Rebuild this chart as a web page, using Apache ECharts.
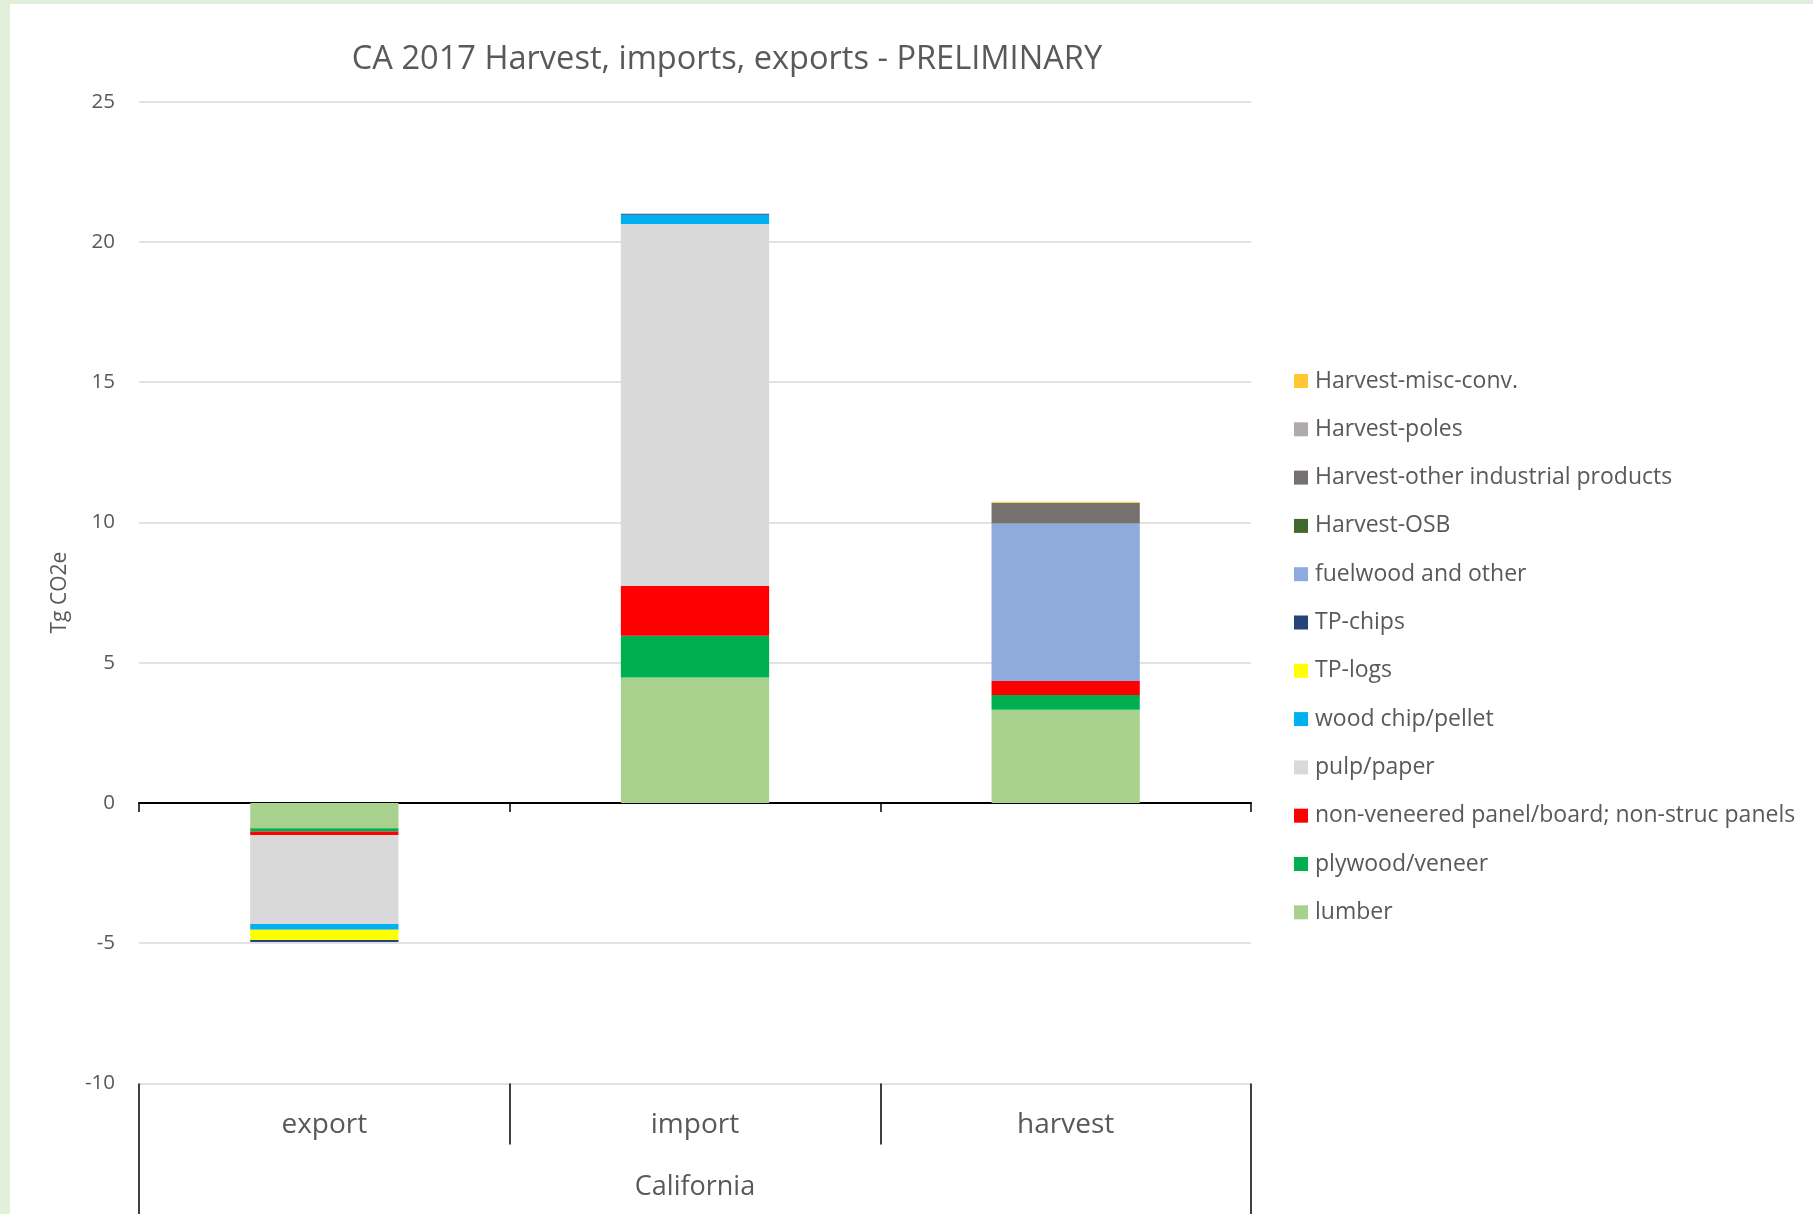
<!DOCTYPE html>
<html>
<head>
<meta charset="utf-8">
<script src="https://cdn.jsdelivr.net/npm/echarts@6/dist/echarts.min.js"></script>
<style>
  html, body { margin: 0; padding: 0; background: #fff; }
  #chart { position: absolute; left: 0; top: 0; width: 1813px; height: 1214px; }
  .strip { position: absolute; background: #E2EFDA; pointer-events: none; }
</style>
</head>
<body>
<div id="chart"></div>
<div class="strip" style="left:0;top:0;width:1813px;height:4px"></div>
<div class="strip" style="left:0;top:0;width:10px;height:1214px"></div>
<script>
// categories
const flows = ['export', 'import', 'harvest']
const region = ['California']

// series values (Tg CO2e), order: export, import, harvest
const lumber = [-0.90, 4.47, 3.32]
const plywood = [-0.12, 1.49, 0.53]
const nonVeneered = [-0.12, 1.78, 0.50]
const pulpPaper = [-3.17, 12.90, 0]
const woodChip = [-0.21, 0.33, 0]
const tpLogs = [-0.36, 0, 0]
const tpChips = [-0.08, 0.04, 0]
const fuelwood = [0, 0, 5.61]
const harvestOSB = [0, 0, 0]
const harvestOther = [0, 0, 0.73]
const harvestPoles = [0, 0, 0.01]
const harvestMisc = [0, 0, 0.04]

// y ticks
const yMin = -10
const yMax = 25
const yStep = 5

const seriesDefs = [
  { name: 'lumber', data: lumber, color: '#A9D18E' },
  { name: 'plywood/veneer', data: plywood, color: '#00B050' },
  { name: 'non-veneered panel/board; non-struc panels', data: nonVeneered, color: '#FF0000' },
  { name: 'pulp/paper', data: pulpPaper, color: '#D9D9D9' },
  { name: 'wood chip/pellet', data: woodChip, color: '#00B0F0' },
  { name: 'TP-logs', data: tpLogs, color: '#FFFF00' },
  { name: 'TP-chips', data: tpChips, color: '#264478' },
  { name: 'fuelwood and other', data: fuelwood, color: '#8FAADC' },
  { name: 'Harvest-OSB', data: harvestOSB, color: '#43682B' },
  { name: 'Harvest-other industrial products', data: harvestOther, color: '#767171' },
  { name: 'Harvest-poles', data: harvestPoles, color: '#AFABAB' },
  { name: 'Harvest-misc-conv.', data: harvestMisc, color: '#FFC832' }
]

const font = 'Open Sans'
const textGrey = '#595959'

const chart = echarts.init(document.getElementById('chart'))
chart.setOption({
  animation: false,
  backgroundColor: '#fff',
  textStyle: { fontFamily: font },
  title: {
    text: 'CA 2017 Harvest, imports, exports - PRELIMINARY',
    left: 722,
    textAlign: 'center',
    top: 38,
    textStyle: { fontFamily: font, fontSize: 32.6, fontWeight: 'normal', color: textGrey }
  },
  legend: {
    orient: 'vertical',
    left: 1289,
    top: 364,
    itemWidth: 14,
    itemHeight: 14,
    itemGap: 24.3,
    icon: 'rect',
    data: seriesDefs.map(s => s.name).reverse(),
    textStyle: { fontFamily: font, fontSize: 23, lineHeight: 24, color: textGrey, padding: [0, 0, 0, 2] }
  },
  grid: { left: 139, right: 562, top: 101.7, bottom: 130.5, containLabel: false },
  xAxis: [
    {
      type: 'category',
      data: flows,
      position: 'bottom',
      axisLine: { onZero: true, lineStyle: { color: '#000', width: 2 } },
      axisTick: { show: true, length: 9, lineStyle: { color: '#000', width: 1.5 } },
      axisLabel: { show: false },
      splitLine: { show: false }
    },
    {
      type: 'category',
      data: flows,
      position: 'bottom',
      axisLine: { show: false, onZero: false },
      axisTick: { show: true, length: 61, lineStyle: { color: '#000', width: 1.5 } },
      axisLabel: { margin: 28, fontFamily: font, fontSize: 28, color: textGrey },
      splitLine: { show: false }
    },
    {
      type: 'category',
      data: region,
      position: 'bottom',
      axisLine: { show: false, onZero: false },
      axisTick: { show: true, length: 131, lineStyle: { color: '#000', width: 1.5 } },
      axisLabel: { margin: 90, fontFamily: font, fontSize: 27, color: textGrey },
      splitLine: { show: false }
    }
  ],
  yAxis: {
    type: 'value',
    min: yMin,
    max: yMax,
    interval: yStep,
    name: 'Tg CO2e',
    nameLocation: 'middle',
    nameGap: 68,
    nameTextStyle: { fontFamily: font, fontSize: 21, color: textGrey },
    axisLine: { show: false },
    axisTick: { show: false },
    axisLabel: { margin: 24, fontFamily: font, fontSize: 20.5, color: textGrey },
    splitLine: { lineStyle: { color: '#D9D9D9', width: 1.5 } }
  },
  series: seriesDefs.map(s => ({
    name: s.name,
    type: 'bar',
    stack: 'total',
    xAxisIndex: 0,
    barWidth: '40%',
    data: s.data,
    itemStyle: { color: s.color }
  }))
})
</script>
</body>
</html>
